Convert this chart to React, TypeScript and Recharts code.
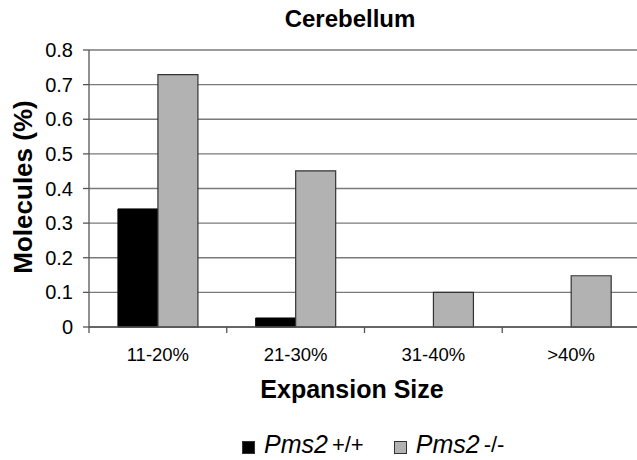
import { BarChart, Bar, XAxis, YAxis, CartesianGrid } from 'recharts'

const categories = ['11-20%', '21-30%', '31-40%', '>40%']
const wildType = [0.341, 0.026, 0, 0]
const knockout = [0.729, 0.451, 0.1, 0.148]
const yTicks = [0, 0.1, 0.2, 0.3, 0.4, 0.5, 0.6, 0.7, 0.8]

const data = categories.map((name, i) => ({ name, wt: wildType[i], ko: knockout[i] }))

const font = '"Liberation Sans", Arial, sans-serif'

// category label plus a tick mark on the left edge of each band (Excel style)
function CategoryTick(props: any) {
  const { x, y, payload } = props
  const edge = x - (payload.offset ?? 0)
  return (
    <g>
      <line x1={edge} x2={edge} y1={y - 21} y2={y - 15} stroke="#555" strokeWidth={1.3} />
      <text x={x} y={y} dy="0.71em" textAnchor="middle" fill="#000" fontSize={18.5} fontFamily={font}>
        {payload.value}
      </text>
    </g>
  )
}

function LegendBox() {
  const item = (fill: string, suffix: string, gapAfter: number) => (
    <span style={{ display: 'inline-flex', alignItems: 'center', marginRight: gapAfter }}>
      <span style={{ display: 'inline-block', width: 11, height: 11, background: fill, border: '1px solid #333', marginRight: 9, position: 'relative', top: 3 }} />
      <span style={{ fontStyle: 'italic', fontSize: 25 }}>Pms2</span>
      <span style={{ fontSize: 22, marginLeft: 4 }}>{suffix}</span>
    </span>
  )
  return (
    <div style={{ position: 'absolute', left: 242, top: 432, fontFamily: font, color: '#000', lineHeight: 1, display: 'flex' }}>
      {item('#000', '+/+', 30)}
      {item('#b2b2b2', '-/-', 0)}
    </div>
  )
}

export default function App() {
  return (
    <div style={{ position: 'absolute', left: 0, top: 0, width: 637, height: 460, overflow: 'hidden', background: '#fff', fontFamily: font }}>
      <div style={{ position: 'absolute', left: 250, width: 200, top: 7, textAlign: 'center', fontSize: 24, fontWeight: 'bold', lineHeight: 1 }}>
        Cerebellum
      </div>
      <div style={{ position: 'absolute', left: 23, top: 187, transform: 'translate(-50%, -50%) rotate(-90deg)', whiteSpace: 'nowrap', fontSize: 26, fontWeight: 'bold', lineHeight: 1 }}>
        Molecules (%)
      </div>
      <div style={{ position: 'absolute', left: 252, width: 200, top: 377, textAlign: 'center', fontSize: 25, fontWeight: 'bold', lineHeight: 1 }}>
        Expansion Size
      </div>
      <BarChart
        width={660}
        height={460}
        data={data}
        margin={{ top: 50, right: 20, bottom: 103, left: 0 }}
        barCategoryGap="21%"
        barGap={0}
      >
        <CartesianGrid vertical={false} stroke="#7a7a7a" strokeWidth={1.4} />
        <XAxis
          dataKey="name"
          height={30}
          tickSize={0}
          tickMargin={21}
          axisLine={{ stroke: '#555', strokeWidth: 1.3 }}
          tick={<CategoryTick />}
          interval={0}
        />
        <YAxis
          width={89}
          domain={[0, 0.8]}
          ticks={yTicks}
          tickFormatter={(v: number) => (v === 0 ? '0' : v.toFixed(1))}
          tickSize={6}
          tickMargin={10}
          axisLine={{ stroke: '#555', strokeWidth: 1.3 }}
          tickLine={{ stroke: '#555', strokeWidth: 1.3 }}
          tick={{ fill: '#000', fontSize: 20, fontFamily: font }}
        />
        <Bar dataKey="wt" fill="#000" stroke="#000" isAnimationActive={false} />
        <Bar dataKey="ko" fill="#b2b2b2" stroke="#333" strokeWidth={1.2} isAnimationActive={false} />
      </BarChart>
      <LegendBox />
    </div>
  )
}
